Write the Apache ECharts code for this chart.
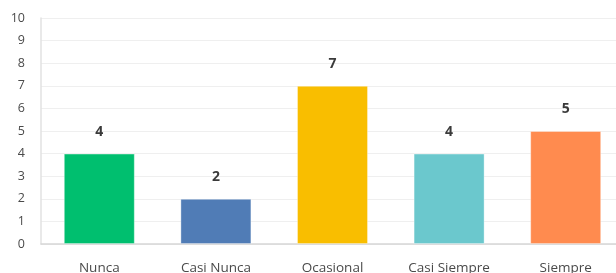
<!DOCTYPE html>
<html>
<head>
<meta charset="utf-8">
<script src="https://cdn.jsdelivr.net/npm/echarts@6/dist/echarts.min.js"></script>
<style>
  html, body { margin: 0; padding: 0; background: #fff; }
  #chart { width: 616px; height: 273px; }
</style>
</head>
<body>
<div id="chart"></div>
<script>
const categories = ['Nunca', 'Casi Nunca', 'Ocasional', 'Casi Siempre', 'Siempre']
const values = [4, 2, 7, 4, 5]
const barColors = ['#00BF6F', '#507CB6', '#F9BE00', '#6BC8CD', '#FF8B4F']
const yTicks = [0, 10, 1] // min, max, interval

const FONT_FAMILY = "'Open Sans', 'Noto Sans', sans-serif"

const chart = echarts.init(document.getElementById('chart'))
chart.setOption({
  animation: false,
  grid: { left: 41, top: 18, bottom: 29, width: 583, outerBoundsMode: 'none', containLabel: false },
  xAxis: {
    type: 'category',
    data: categories,
    axisTick: { show: false },
    axisLine: { lineStyle: { color: '#d6d6d6', width: 1.5 } },
    axisLabel: { fontFamily: FONT_FAMILY, fontSize: 13.5, color: '#4a4a4a', margin: 17 },
  },
  yAxis: {
    type: 'value',
    min: yTicks[0],
    max: yTicks[1],
    interval: yTicks[2],
    axisLine: { show: true, lineStyle: { color: '#e2e2e2', width: 1.5 } },
    axisTick: { show: false },
    axisLabel: { fontFamily: FONT_FAMILY, fontSize: 12.5, color: '#4a4a4a', margin: 16 },
    splitLine: { lineStyle: { color: '#efefef' } },
  },
  series: [{
    type: 'bar',
    barWidth: 71,
    data: values.map((v, i) => ({
      value: v,
      itemStyle: { color: barColors[i], borderColor: 'rgba(255,255,255,0.35)', borderWidth: 1 },
    })),
    label: {
      show: true,
      position: 'top',
      distance: 15,
      fontFamily: FONT_FAMILY,
      fontSize: 14,
      fontWeight: 'bold',
      color: '#3a3a3a',
    },
  }],
})
</script>
</body>
</html>
